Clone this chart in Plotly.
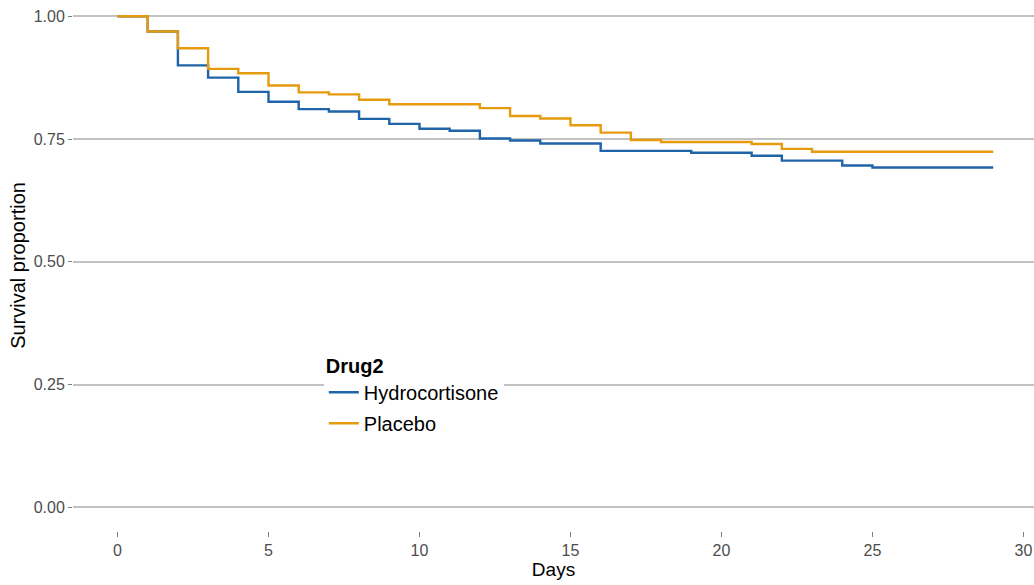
import plotly.graph_objects as go

# Kaplan-Meier step data
hydro_days = [0, 1, 2, 3, 4, 5, 6, 7, 8, 9, 10, 11, 12, 13, 14, 16, 19, 21, 22, 24, 25, 29]
hydro_surv = [1.0, 0.969, 0.900, 0.875, 0.846, 0.826, 0.811, 0.806, 0.791, 0.781, 0.771,
              0.767, 0.751, 0.747, 0.741, 0.726, 0.722, 0.716, 0.706, 0.696, 0.692, 0.692]

placebo_days = [0, 1, 2, 3, 4, 5, 6, 7, 8, 9, 12, 13, 14, 15, 16, 17, 18, 21, 22, 23, 29]
placebo_surv = [1.0, 0.969, 0.935, 0.893, 0.884, 0.859, 0.845, 0.841, 0.830, 0.821, 0.813,
                0.797, 0.792, 0.778, 0.763, 0.748, 0.744, 0.740, 0.730, 0.724, 0.724]

x_ticks = [0, 5, 10, 15, 20, 25, 30]
y_ticks = [0.0, 0.25, 0.5, 0.75, 1.0]
y_tick_text = ["0.00", "0.25", "0.50", "0.75", "1.00"]

BLUE = "#1F63A8"
ORANGE = "#E69A0E"
FONT = "Liberation Sans, Arial, Helvetica, sans-serif"

fig = go.Figure()
fig.add_trace(go.Scatter(x=hydro_days, y=hydro_surv, mode="lines", line_shape="hv",
                         name="Hydrocortisone", legendgroup="h",
                         line=dict(color=BLUE, width=2.4)))
fig.add_trace(go.Scatter(x=placebo_days, y=placebo_surv, mode="lines", line_shape="hv",
                         name="Placebo", legendgroup="p",
                         line=dict(color=ORANGE, width=2.4)))

fig.update_layout(
    width=1034, height=585,
    margin=dict(l=73, r=0, t=0, b=54, autoexpand=False),
    paper_bgcolor="white", plot_bgcolor="white",
    font=dict(family=FONT, size=16, color="#4D4D4D"),
    showlegend=True,
    legend=dict(
        title=dict(text="<b>Drug2</b>", font=dict(size=20, color="black")),
        font=dict(size=20, color="black"),
        bgcolor="white",
        x=0.261, xanchor="left",
        y=0.347, yanchor="top",
        tracegroupgap=2,
    ),
    xaxis=dict(
        range=[-1.474, 30.35],
        tickmode="array", tickvals=x_ticks,
        showgrid=False, zeroline=False, showline=False,
        ticks="outside", ticklen=5, tickwidth=1.3, tickcolor="#7F7F7F",
        tickfont=dict(size=16, color="#4D4D4D"),
        automargin=False,
        title=dict(text="Days", font=dict(size=19, color="black"), standoff=2),
    ),
    yaxis=dict(
        range=[-0.0483, 1.0332],
        tickmode="array", tickvals=y_ticks, ticktext=y_tick_text,
        showgrid=True, gridcolor="#C2C2C2", gridwidth=1.5,
        zeroline=False, showline=False,
        ticks="outside", ticklen=4, tickwidth=1.3, tickcolor="#7F7F7F",
        tickfont=dict(size=16, color="#4D4D4D"),
        automargin=False,
        title=dict(text="Survival proportion", font=dict(size=20, color="black"), standoff=2),
    ),
)

fig.write_html("out.html", config={"displayModeBar": False},
               post_script="document.body.style.margin='0';")
